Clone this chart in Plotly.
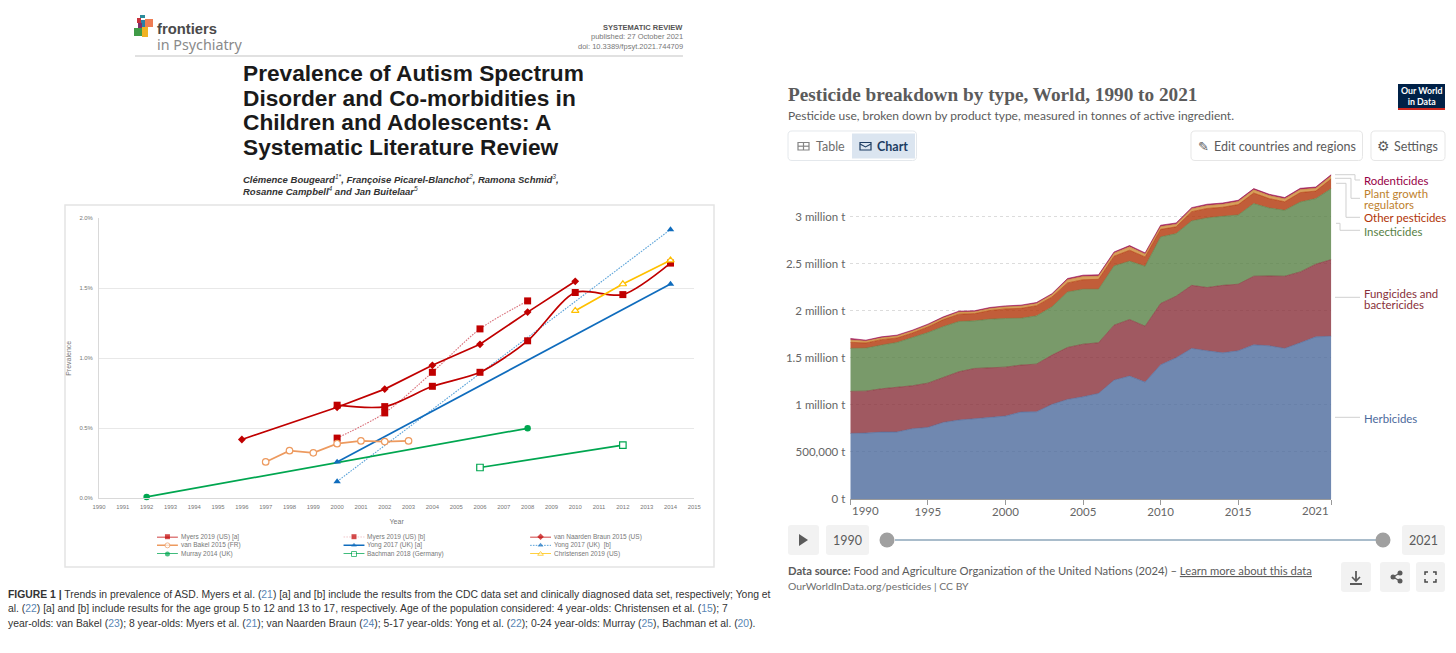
import plotly.graph_objects as go

# ---------- left chart data (prevalence, %) ----------
myers_a_x = [2000, 2002, 2004, 2006, 2008, 2010, 2012, 2014]
myers_a_y = [0.665, 0.655, 0.80, 0.90, 1.125, 1.47, 1.455, 1.68]
myers_b_x = [2000, 2002, 2004, 2006, 2008]
myers_b_y = [0.43, 0.61, 0.90, 1.21, 1.41]
naarden_x = [1996, 2000, 2002, 2004, 2006, 2008, 2010]
naarden_y = [0.42, 0.65, 0.78, 0.95, 1.10, 1.33, 1.55]
bakel_x = [1997, 1998, 1999, 2000, 2001, 2002, 2003]
bakel_y = [0.26, 0.34, 0.325, 0.39, 0.41, 0.405, 0.41]
yong_a_x = [2000, 2014]
yong_a_y = [0.26, 1.53]
yong_b_x = [2000, 2014]
yong_b_y = [0.12, 1.92]
murray_x = [1992, 2008]
murray_y = [0.01, 0.50]
bachman_x = [2006, 2012]
bachman_y = [0.22, 0.38]
christensen_x = [2010, 2012, 2014]
christensen_y = [1.34, 1.53, 1.70]
left_years = list(range(1990, 2016))
left_yticks = [0, 0.5, 1.0, 1.5, 2.0]
left_ylabels = ["0.0%", "0.5%", "1.0%", "1.5%", "2.0%"]

# ---------- right chart data (thousand tonnes) ----------
years = list(range(1990, 2022))
herbicides = [697, 700, 711, 712, 747, 761, 814, 839, 853, 863, 881, 924, 927, 1005, 1058, 1086,
              1122, 1263, 1306, 1242, 1426, 1500, 1600, 1575, 1553, 1575, 1638, 1628, 1600, 1660, 1723, 1730]
fungicides = [446, 446, 460, 473, 456, 470, 478, 513, 534, 528, 520, 499, 506, 524, 552, 559,
              538, 584, 601, 594, 651, 655, 670, 672, 717, 707, 729, 742, 767, 753, 772, 814]
insecticides = [457, 457, 464, 478, 513, 538, 541, 534, 506, 520, 517, 498, 513, 513, 590, 584,
                569, 630, 620, 637, 708, 665, 685, 740, 734, 736, 772, 722, 701, 743, 697, 754]
other_pesticides = [65, 55, 58, 48, 48, 59, 73, 78, 77, 92, 102, 105, 108, 105, 96, 101,
                    105, 103, 116, 99, 80, 72, 98, 100, 96, 110, 112, 100, 90, 100, 80, 104]
plant_growth = [25, 20, 20, 20, 20, 20, 20, 22, 20, 22, 22, 24, 24, 25, 35, 35,
                35, 33, 37, 30, 30, 28, 30, 32, 32, 33, 34, 33, 32, 32, 30, 32]
rodenticides = [16, 10, 10, 10, 10, 10, 10, 10, 10, 10, 10, 10, 10, 10, 12, 13,
                13, 12, 13, 13, 14, 13, 13, 13, 13, 13, 13, 13, 13, 13, 13, 13]
right_xticks = [1995, 2000, 2005, 2010, 2015]
right_xends = [1990, 2021]
right_yticks = [0, 500, 1000, 1500, 2000, 2500, 3000]
right_ylabels = ["0 t", "500,000 t", "1 million t", "1.5 million t", "2 million t", "2.5 million t", "3 million t"]

W, H = 1456, 653
RED, ORANGE, GREEN, BLUE, LBLUE, YELLOW = "#c00000", "#ed9a5f", "#00a650", "#0f6cbd", "#5ba3d9", "#ffc000"
GREY_TXT = "#777777"
LAT = "Lato"
HEL = "Liberation Sans"
FINE_DOT = "1.6px,1.2px"


def px(x):
    return x / W


def py(y):
    return 1 - y / H


shapes, annos = [], []


def txt(x, y, s, size, color, font=HEL, anchor="left"):
    annos.append(dict(x=px(x), y=py(y), xref="paper", yref="paper", text=s, showarrow=False,
                      xanchor=anchor, yanchor="middle", font=dict(size=size, color=color, family=font),
                      borderpad=0, borderwidth=0))


def rect(x0, y0, x1, y1, fill=None, line=None, lw=1, layer="below"):
    shapes.append(dict(type="rect", xref="paper", yref="paper", x0=px(x0), x1=px(x1), y0=py(y0), y1=py(y1),
                       fillcolor=fill or "rgba(0,0,0,0)", line=dict(color=line or "rgba(0,0,0,0)", width=lw if line else 0),
                       layer=layer))


def poly(pts, color=None, fill=None, lw=1, closed=False, layer="above"):
    d = "M" + " L".join(f"{px(a):.5f},{py(b):.5f}" for a, b in pts) + (" Z" if closed else "")
    shapes.append(dict(type="path", xref="paper", yref="paper", path=d, fillcolor=fill or "rgba(0,0,0,0)",
                       line=dict(color=color or "rgba(0,0,0,0)", width=lw if color else 0), layer=layer))


def rrect(x0, y0, x1, y1, r=4, fill=None, line=None, lw=1):
    f = lambda a, b: f"{px(a):.5f},{py(b):.5f}"
    d = (f"M{f(x0+r,y0)} L{f(x1-r,y0)} Q{f(x1,y0)} {f(x1,y0+r)} L{f(x1,y1-r)} Q{f(x1,y1)} {f(x1-r,y1)} "
         f"L{f(x0+r,y1)} Q{f(x0,y1)} {f(x0,y1-r)} L{f(x0,y0+r)} Q{f(x0,y0)} {f(x0+r,y0)} Z")
    shapes.append(dict(type="path", xref="paper", yref="paper", path=d, fillcolor=fill or "rgba(0,0,0,0)",
                       line=dict(color=line or "rgba(0,0,0,0)", width=lw if line else 0), layer="below"))


def circle(cx, cy, r, fill):
    shapes.append(dict(type="circle", xref="paper", yref="paper", x0=px(cx - r), x1=px(cx + r),
                       y0=py(cy + r), y1=py(cy - r), fillcolor=fill, line=dict(width=0), layer="above"))


fig = go.Figure()

# ---------- left chart ----------
def series(x, y, color, symbol, size, dash="solid", lw=1.7, mfill=None, shape="linear", mline=None):
    fig.add_trace(go.Scatter(x=x, y=y, mode="lines+markers", xaxis="x", yaxis="y", cliponaxis=False,
                             line=dict(color=color, width=lw, dash=dash, shape=shape, smoothing=0.8),
                             marker=dict(symbol=symbol, size=size, color=mfill or color,
                                         line=dict(color=mline or color, width=1.2 if mfill else 0)),
                             showlegend=False, hoverinfo="x+y"))


series(yong_b_x, yong_b_y, LBLUE, "triangle-up", 6.5, dash=FINE_DOT, lw=1.1)
fig.data[-1].marker.color = BLUE
series(myers_b_x, myers_b_y, "#d9707a", "square", 7, dash=FINE_DOT, lw=1.1, shape="spline")
fig.data[-1].marker.color = RED
series(murray_x, murray_y, GREEN, "circle", 6.5)
series(bachman_x, bachman_y, GREEN, "square", 6.5, mfill="#ffffff")
series(yong_a_x, yong_a_y, BLUE, "triangle-up", 6.5)
series(naarden_x, naarden_y, RED, "diamond", 6)
series(bakel_x, bakel_y, ORANGE, "circle", 6.5, mfill="#ffffff")
series(myers_a_x, myers_a_y, RED, "square", 7, shape="spline")
series(christensen_x, christensen_y, YELLOW, "triangle-up", 6.5, mfill="#ffffff")

# legend keys on their own small axis: columns 0-2, rows 0-2
legend_rows = [
    ("Myers 2019 (US) [a]", 0, 0, RED, "square", "solid", None),
    ("Myers 2019 (US) [b]", 1, 0, "#d9707a", "square", FINE_DOT, None),
    ("van Naarden Braun 2015 (US)", 2, 0, RED, "diamond", "solid", None),
    ("van Bakel 2015 (FR)", 0, 1, ORANGE, "circle", "solid", "#ffffff"),
    ("Yong 2017 (UK) [a]", 1, 1, BLUE, "triangle-up", "solid", None),
    ("Yong 2017 (UK)  [b]", 2, 1, LBLUE, "triangle-up", FINE_DOT, None),
    ("Murray 2014 (UK)", 0, 2, GREEN, "circle", "solid", None),
    ("Bachman 2018 (Germany)", 1, 2, GREEN, "square", "solid", "#ffffff"),
    ("Christensen 2019 (US)", 2, 2, YELLOW, "triangle-up", "solid", "#ffffff"),
]
KEY = 0.112
for name, c, r, col, sym, dash, mf in legend_rows:
    mc = mf or (RED if col == "#d9707a" else BLUE if col == LBLUE else col)
    fig.add_trace(go.Scatter(x=[c, c + KEY / 2, c + KEY], y=[r, r, r], xaxis="x3", yaxis="y3",
                             mode="lines+markers", cliponaxis=False,
                             line=dict(color=col, width=1.5 if dash == "solid" else 1, dash=dash),
                             marker=dict(symbol=sym, size=[0, 5, 0], color=mc,
                                         line=dict(color=col, width=1 if mf else 0)),
                             showlegend=False, hoverinfo="skip"))
    annos.append(dict(x=c + KEY, y=r, xref="x3", yref="y3", text=name, showarrow=False, xanchor="left", yanchor="middle",
                      xshift=1, font=dict(size=6.5, color=GREY_TXT, family=HEL)))

# ---------- right chart ----------
layers = [
    ("Herbicides", herbicides, "76,106,156", "#4C6A9C"),
    ("Fungicides and bactericides", fungicides, "136,48,57", "#883039"),
    ("Insecticides", insecticides, "87,129,69", "#578145"),
    ("Other pesticides", other_pesticides, "177,53,7", "#B13507"),
    ("Plant growth regulators", plant_growth, "205,135,50", "#C4862F"),
    ("Rodenticides", rodenticides, "151,0,70", "#970046"),
]
for name, vals, rgb, hexc in layers:
    fig.add_trace(go.Scatter(x=years, y=vals, name=name, xaxis="x2", yaxis="y2", stackgroup="one", mode="lines",
                             line=dict(color=hexc, width=0.6), fillcolor=f"rgba({rgb},0.8)", showlegend=False))

# ---------- left page furniture ----------
rect(65, 205, 714, 567, fill="#ffffff", line="#e4e4e4", lw=1.5)
poly([(135, 56), (683, 56)], color="#c4c4c4", lw=1.2, layer="below")
for x0, y0, x1, y1, c in [(137, 18, 141, 23, "#c8323c"), (140, 15, 145, 18, "#2b8c9b"), (145, 19, 153, 27, "#ef7d54"),
                          (141, 20, 145, 27, "#2a7fa5"), (134, 28, 143, 36, "#3f9b47"), (142, 27, 148, 37, "#f0b323"),
                          (138, 23, 142, 28, "#7a2f6b")]:
    rect(x0, y0, x1, y1, fill=c)
txt(157, 29.5, "<b>frontiers</b>", 14.8, "#4a4a4a")
txt(157, 44.5, "in Psychiatry", 14.3, "#8a8a8a", font="Noto Sans")
txt(683, 28, "<b>SYSTEMATIC REVIEW</b>", 7.5, "#555555", anchor="right")
txt(683, 37, "published: 27 October 2021", 7.5, "#777777", anchor="right")
txt(683, 46, "doi: 10.3389/fpsyt.2021.744709", 7.5, "#777777", anchor="right")
for y, line in [(72.5, "Prevalence of Autism Spectrum"), (97.5, "Disorder and Co-morbidities in"),
                (122, "Children and Adolescents: A"), (147, "Systematic Literature Review")]:
    txt(243, y, f"<b>{line}</b>", 22.7, "#1a1a1a")
txt(243, 179, "<i><b>Clémence Bougeard</b><sup>1*</sup><b>, Françoise Picarel-Blanchot</b><sup>2</sup><b>, Ramona Schmid</b><sup>3</sup><b>,</b></i>", 9.5, "#333333")
txt(243, 191, "<i><b>Rosanne Campbell</b><sup>4</sup><b> and Jan Buitelaar</b><sup>5</sup></i>", 9.5, "#333333")
LK = "#5a87b5"
CAP = 10.37
txt(8, 594, f"<b>FIGURE 1 |</b> Trends in prevalence of ASD. Myers et al. (<span style='color:{LK}'>21</span>) [a] and [b] include the results from the CDC data set and clinically diagnosed data set, respectively; Yong et", CAP, "#333333")
txt(8, 608.5, f"al. (<span style='color:{LK}'>22</span>) [a] and [b] include results for the age group 5 to 12 and 13 to 17, respectively. Age of the population considered: 4 year-olds: Christensen et al. (<span style='color:{LK}'>15</span>); 7", CAP, "#333333")
txt(8, 623, f"year-olds: van Bakel (<span style='color:{LK}'>23</span>); 8 year-olds: Myers et al. (<span style='color:{LK}'>21</span>); van Naarden Braun (<span style='color:{LK}'>24</span>); 5-17 year-olds: Yong et al. (<span style='color:{LK}'>22</span>); 0-24 year-olds: Murray (<span style='color:{LK}'>25</span>), Bachman et al. (<span style='color:{LK}'>20</span>).", CAP, "#333333")

# ---------- right page furniture ----------
txt(788, 94, "<b>Pesticide breakdown by type, World, 1990 to 2021</b>", 19.25, "#5b5b5b", font="Liberation Serif")
txt(788, 115, "Pesticide use, broken down by product type, measured in tonnes of active ingredient.", 12, "#5b5b5b", font=LAT)
rect(1398, 84, 1445, 110, fill="#002147")
rect(1398, 108, 1445, 110, fill="#ce261e")
annos.append(dict(x=px(1421.5), y=py(96), xref="paper", yref="paper", showarrow=False, text="<b>Our World<br>in Data</b>",
                  xanchor="center", yanchor="middle", font=dict(size=8.8, color="#ffffff", family=LAT), align="center"))
rrect(788, 131, 916.5, 160.5, r=4, fill="#ffffff", line="#e4e8ec")
rect(852, 133.5, 915, 158.5, fill="#dbe5f0")
rect(798, 142.5, 809, 150, line="#858585", lw=1.2)
poly([(798, 146.2), (809, 146.2)], color="#858585", lw=1.2)
poly([(803.5, 142.5), (803.5, 150)], color="#858585", lw=1.2)
txt(816, 146, "Table", 12.5, "#6e6e6e", font=LAT)
rect(860, 142.5, 871, 150, line="#1d3d63", lw=1.2)
poly([(860, 144), (865.5, 147), (871, 144)], color="#1d3d63", lw=1.1)
txt(877, 146, "<b>Chart</b>", 12.5, "#1d3d63", font=LAT)
rrect(1191, 131, 1362.5, 160.5, r=4, fill="#ffffff", line="#e6e6e6")
txt(1198, 146, "✎", 13, "#5b5b5b", font="DejaVu Sans")
txt(1214, 146, "Edit countries and regions", 12.5, "#5b5b5b", font=LAT)
rrect(1371, 131, 1445, 160.5, r=4, fill="#ffffff", line="#e6e6e6")
txt(1377, 146, "⚙", 14, "#5b5b5b", font="DejaVu Sans")
txt(1394, 146, "Settings", 12.5, "#5b5b5b", font=LAT)

# series labels + connectors
CONN = "#d0d0d0"
poly([(1335, 174.7), (1355, 174.7), (1355, 180), (1360, 180)], color=CONN)
poly([(1335, 178.3), (1351, 178.3), (1351, 198.3), (1360, 198.3)], color=CONN)
poly([(1336, 183.3), (1346, 183.3), (1346, 217.3), (1360, 217.3)], color=CONN)
poly([(1336, 223.3), (1340, 223.3), (1340, 230.3), (1360, 230.3)], color=CONN)
poly([(1335, 297.3), (1360, 297.3)], color=CONN)
poly([(1335, 417.3), (1360, 417.3)], color=CONN)
LS = 11.4
txt(1364, 180, "Rodenticides", LS, "#970046", font=LAT)
txt(1364, 193, "Plant growth", LS, "#BE7F2D", font=LAT)
txt(1364, 204.5, "regulators", LS, "#BE7F2D", font=LAT)
txt(1364, 217.5, "Other pesticides", LS, "#B13507", font=LAT)
txt(1364, 231, "Insecticides", LS, "#578145", font=LAT)
txt(1364, 293, "Fungicides and", LS, "#883039", font=LAT)
txt(1364, 304, "bactericides", LS, "#883039", font=LAT)
txt(1364, 418, "Herbicides", LS, "#4C6A9C", font=LAT)

# end tick labels of the time axis are shifted inwards, as in the original
for xv, anch in zip(right_xends, ["left", "right"]):
    annos.append(dict(x=xv, y=py(510), xref="x2", yref="paper", text=str(xv), showarrow=False, xanchor=anch, yanchor="middle",
                      font=dict(size=11.5, color="#666666", family=LAT)))

# timeline
rrect(788, 525, 819, 555, r=3, fill="#f2f2f2")
poly([(799, 534), (799, 546), (808, 540)], fill="#5b5b5b", closed=True)
rrect(826, 525, 869, 555, r=3, fill="#f2f2f2")
txt(847.5, 540, "1990", 12.5, "#5b5b5b", font=LAT, anchor="center")
poly([(895, 540), (1376, 540)], color="#a9bccb", lw=2)
circle(887, 540, 7.5, "#a0a0a0")
circle(1383, 540, 7.5, "#a0a0a0")
rrect(1402, 525, 1445, 555, r=3, fill="#f2f2f2")
txt(1423.5, 540, "2021", 12.5, "#5b5b5b", font=LAT, anchor="center")

# footer
txt(788, 570, "<b>Data source:</b> Food and Agriculture Organization of the United Nations (2024) – <u>Learn more about this data</u>", 11.25, "#5b5b5b", font=LAT)
txt(788, 586, "OurWorldInData.org/pesticides | CC BY", 10.4, "#6e6e6e", font=LAT)
for x0, x1 in [(1341, 1371), (1380, 1410), (1416, 1445)]:
    rrect(x0, 562, x1, 592, r=3, fill="#f2f2f2")
poly([(1356, 571), (1356, 580)], color="#5b5b5b", lw=1.8)
poly([(1352, 577), (1356, 581), (1360, 577)], color="#5b5b5b", lw=1.6)
poly([(1350, 584), (1362, 584)], color="#5b5b5b", lw=2)
poly([(1400, 573), (1393, 577), (1400, 581)], color="#5b5b5b", lw=1.2)
circle(1400, 573, 2.5, "#5b5b5b")
circle(1393, 577, 2.5, "#5b5b5b")
circle(1400, 581, 2.5, "#5b5b5b")
for pts in [[(1425, 575), (1425, 572), (1428, 572)], [(1433, 572), (1436, 572), (1436, 575)],
            [(1425, 579), (1425, 582), (1428, 582)], [(1433, 582), (1436, 582), (1436, 579)]]:
    poly(pts, color="#4a4a4a", lw=1.5)

left_font = dict(size=5.9, color=GREY_TXT, family=HEL)
right_font = dict(size=11.5, color="#666666", family=LAT)
fig.update_layout(
    width=W, height=H, margin=dict(l=0, r=0, t=0, b=0, autoexpand=False), paper_bgcolor="#ffffff", plot_bgcolor="rgba(0,0,0,0)",
    showlegend=False, shapes=shapes, annotations=annos,
    xaxis=dict(domain=[px(99), px(694.3)], range=[1990, 2015], anchor="y", tickvals=left_years, tickfont=left_font,
               showgrid=False, showline=True, linecolor="#d9d9d9", linewidth=1, ticks="", zeroline=False, ticklabelstandoff=3,
               title=dict(text="Year", font=dict(size=7, color=GREY_TXT, family=HEL), standoff=9)),
    yaxis=dict(domain=[py(498.3), py(218.3)], range=[0, 2], anchor="x", tickvals=left_yticks, ticktext=left_ylabels,
               tickfont=left_font, gridcolor="#e8e8e8", gridwidth=1.3, showline=True, linecolor="#d9d9d9", zeroline=False,
               ticks="", ticklabelstandoff=4, title=dict(text="Prevalence", font=dict(size=7, color=GREY_TXT, family=HEL), standoff=6)),
    xaxis2=dict(domain=[px(850.3), px(1331.3)], range=[1990, 2021], anchor="y2", tickvals=right_xticks,
                tickfont=right_font, showgrid=False, showline=True, linecolor="#9a9a9a", ticks="outside", ticklen=5,
                tickcolor="#9a9a9a", zeroline=False, ticklabelstandoff=-3,
                minor=dict(tickvals=right_xends, ticks="outside", ticklen=5, tickcolor="#9a9a9a", showgrid=False)),
    yaxis2=dict(domain=[py(499), py(160.2)], range=[0, 3600], anchor="x2", tickvals=right_yticks, ticktext=right_ylabels,
                tickfont=right_font, gridcolor="#dcdcdc", griddash="dot", gridwidth=1, showline=False, zeroline=False, ticks="",
                ticklabelstandoff=4),
    xaxis3=dict(domain=[px(157), px(157 + 373 + 21)], range=[0, 2.112], anchor="y3", visible=False, fixedrange=True),
    yaxis3=dict(domain=[py(554), py(536.7)], range=[2, 0], anchor="x3", visible=False, fixedrange=True),
)

fig.write_html("out.html", config=dict(displayModeBar=False),
               post_script="document.body.style.margin='0';document.body.style.overflow='hidden';")
